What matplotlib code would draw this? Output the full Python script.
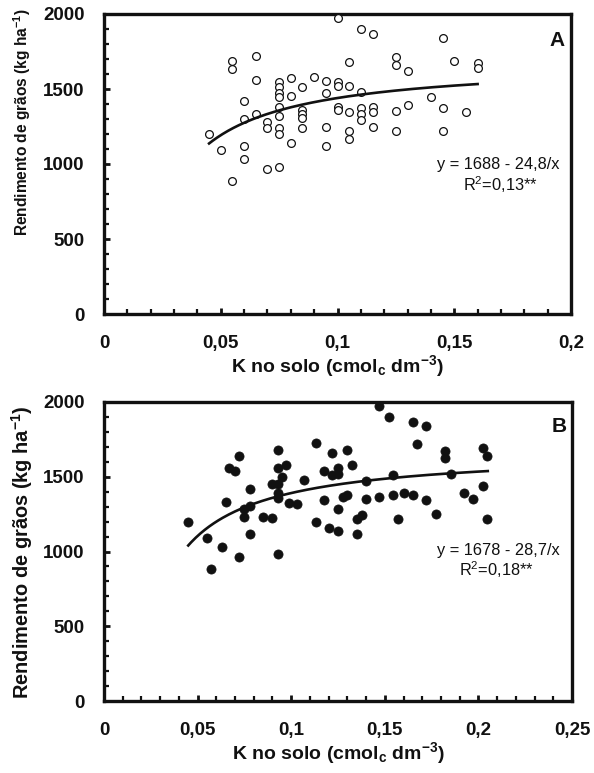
import numpy as np
import matplotlib
matplotlib.use("Agg")
import matplotlib.pyplot as plt
from matplotlib.ticker import MultipleLocator, FixedLocator, FixedFormatter

plt.rcParams["font.family"] = ["Liberation Sans", "DejaVu Sans"]
plt.rcParams["mathtext.fontset"] = "custom"
plt.rcParams["mathtext.rm"] = "Liberation Sans"
plt.rcParams["mathtext.bf"] = "Liberation Sans:bold"
plt.rcParams["mathtext.it"] = "Liberation Sans:italic"

# Panel A: K in soil vs grain yield (open circles)
k_a = [0.045, 0.050, 0.055, 0.055, 0.055, 0.060, 0.060, 0.060, 0.060,
       0.065, 0.065, 0.065, 0.070, 0.070, 0.070,
       0.075, 0.075, 0.075, 0.075, 0.075, 0.075, 0.075, 0.075, 0.075,
       0.080, 0.080, 0.080, 0.085, 0.085, 0.085, 0.085, 0.085, 0.090,
       0.095, 0.095, 0.095, 0.095, 0.100, 0.100, 0.100, 0.100, 0.100,
       0.105, 0.105, 0.105, 0.105, 0.105, 0.110, 0.110, 0.110, 0.110, 0.110,
       0.115, 0.115, 0.115, 0.115, 0.125, 0.125, 0.125, 0.125,
       0.130, 0.130, 0.140, 0.145, 0.145, 0.145, 0.150, 0.155, 0.160, 0.160]
y_a = [1200, 1091, 1687, 1633, 889, 1422, 1302, 1120, 1031,
       1722, 1560, 1333, 1280, 1238, 967,
       982, 1549, 1511, 1475, 1444, 1382, 1320, 1238, 1200,
       1575, 1451, 1140, 1511, 1362, 1333, 1305, 1238, 1580,
       1556, 1471, 1244, 1120, 1975, 1549, 1520, 1382, 1360,
       1682, 1520, 1345, 1222, 1164, 1900, 1482, 1371, 1333, 1293,
       1867, 1378, 1349, 1249, 1716, 1660, 1356, 1222,
       1622, 1393, 1444, 1838, 1376, 1222, 1689, 1345, 1671, 1638]

# Panel B: K in soil vs grain yield (filled circles)
k_b = [0.045, 0.055, 0.057, 0.063, 0.065, 0.067, 0.070, 0.072, 0.072,
       0.078, 0.078, 0.075, 0.075, 0.078, 0.085, 0.090, 0.093, 0.093,
       0.097, 0.095, 0.090, 0.093, 0.093, 0.093, 0.093, 0.099, 0.103,
       0.107, 0.113, 0.113, 0.1175, 0.1175, 0.120, 0.122, 0.122,
       0.125, 0.125, 0.125, 0.125, 0.1275, 0.1296, 0.1296, 0.1323,
       0.135, 0.1377, 0.135, 0.140, 0.140, 0.147, 0.147, 0.1524,
       0.1545, 0.1545, 0.1572, 0.160, 0.165, 0.165, 0.1674, 0.172,
       0.172, 0.1774, 0.1822, 0.1822, 0.1852, 0.1923, 0.1973,
       0.2023, 0.2044, 0.2023, 0.2044]
y_b = [1199, 1088, 885, 1032, 1333, 1557, 1538, 1639, 965,
       1420, 1304, 1282, 1233, 1117, 1233, 1226, 1681, 1561,
       1579, 1500, 1452, 1452, 1389, 1356, 981, 1327, 1316,
       1478, 1724, 1199, 1538, 1342, 1160, 1657, 1512,
       1557, 1518, 1284, 1139, 1362, 1378, 1679, 1579,
       1215, 1244, 1117, 1472, 1354, 1975, 1367, 1902,
       1512, 1378, 1217, 1393, 1864, 1376, 1717, 1842,
       1344, 1251, 1674, 1623, 1518, 1393, 1351,
       1690, 1639, 1440, 1217]

# Fitted models y = a - b/x
fit_a = (1688, 24.8, 0.045, 0.16)
fit_b = (1678, 28.7, 0.045, 0.205)

xticks_a = [0, 0.05, 0.1, 0.15, 0.2]
xlabels_a = ["0", "0,05", "0,1", "0,15", "0,2"]
xticks_b = [0, 0.05, 0.1, 0.15, 0.2, 0.25]
xlabels_b = ["0", "0,05", "0,1", "0,15", "0,2", "0,25"]
yticks = [0, 500, 1000, 1500, 2000]
ylabels = ["0", "500", "1000", "1500", "2000"]

W, H = 594, 773
fig = plt.figure(figsize=(W / 100, H / 100), dpi=100)


def frac(x0, y0):
    return x0 / W, 1 - y0 / H


def add_axes(left, top, right, bottom):
    return fig.add_axes([left / W, 1 - bottom / H, (right - left) / W, (bottom - top) / H])


ax_a = add_axes(104, 14, 571, 314)
ax_b = add_axes(104, 402, 572, 701)


def style(ax, xticks, xlabels, xmax):
    ax.set_xlim(0, xmax)
    ax.set_ylim(0, 2000)
    for s in ax.spines.values():
        s.set_linewidth(2.4)
        s.set_color("#111111")
    ax.xaxis.set_major_locator(FixedLocator(xticks))
    ax.xaxis.set_major_formatter(FixedFormatter(xlabels))
    ax.xaxis.set_minor_locator(MultipleLocator(0.01))
    ax.yaxis.set_major_locator(FixedLocator(yticks))
    ax.yaxis.set_major_formatter(FixedFormatter(ylabels))
    ax.yaxis.set_minor_locator(MultipleLocator(100))
    ax.tick_params(axis="both", which="major", direction="in", length=4.5, width=2.0,
                   labelsize=13.5, colors="#111111")
    ax.tick_params(axis="both", which="minor", direction="in", length=3.5, width=1.6,
                   colors="#111111")
    ax.tick_params(axis="x", which="major", pad=15)
    ax.tick_params(axis="y", which="major", pad=14)
    for lab in ax.get_xticklabels() + ax.get_yticklabels():
        lab.set_fontweight("bold")
    ax.set_xlabel(r"K no solo (cmol$_{\mathbf{c}}$ dm$^{\mathbf{-3}}$)", fontsize=14,
                  fontweight="bold", labelpad=1, color="#111111")


style(ax_a, xticks_a, xlabels_a, 0.2)
style(ax_b, xticks_b, xlabels_b, 0.25)

ax_a.plot(k_a, y_a, linestyle="none", marker="o", markersize=5.6, markerfacecolor="white",
          markeredgecolor="#111111", markeredgewidth=0.9, clip_on=False, zorder=3)
ax_b.plot(k_b, y_b, linestyle="none", marker="o", markersize=6.6, markerfacecolor="#111111",
          markeredgecolor="#111111", markeredgewidth=0.5, clip_on=False, zorder=3)

for ax, (a, b, x0, x1) in ((ax_a, fit_a), (ax_b, fit_b)):
    xs = np.linspace(x0, x1, 200)
    ax.plot(xs, a - b / xs, color="#111111", linewidth=1.9, zorder=4)

# Y-axis labels
ylab = r"Rendimento de grãos (kg ha$^{\mathbf{-1}}$)"
fig.text(*frac(22, 122), ylab, rotation=90, ha="center", va="center", fontsize=11.2,
         fontweight="bold", color="#111111")
fig.text(*frac(22, 552), ylab, rotation=90, ha="center", va="center", fontsize=14.4,
         fontweight="bold", color="#111111")

# Panel letters
fig.text(*frac(557, 40), "A", ha="center", va="center", fontsize=15, fontweight="bold",
         color="#111111")
fig.text(*frac(559, 426), "B", ha="center", va="center", fontsize=15, fontweight="bold",
         color="#111111")

# Equations
fig.text(*frac(498, 164), "y = 1688 - 24,8/x", ha="center", va="center", fontsize=11.8,
         color="#111111")
fig.text(*frac(500, 185), r"R$^{2}$=0,13**", ha="center", va="center", fontsize=11.8,
         color="#111111")
fig.text(*frac(498, 550), "y = 1678 - 28,7/x", ha="center", va="center", fontsize=11.8,
         color="#111111")
fig.text(*frac(496, 570), r"R$^{2}$=0,18**", ha="center", va="center", fontsize=11.8,
         color="#111111")

fig.savefig("out.png", dpi=100, facecolor="white")
